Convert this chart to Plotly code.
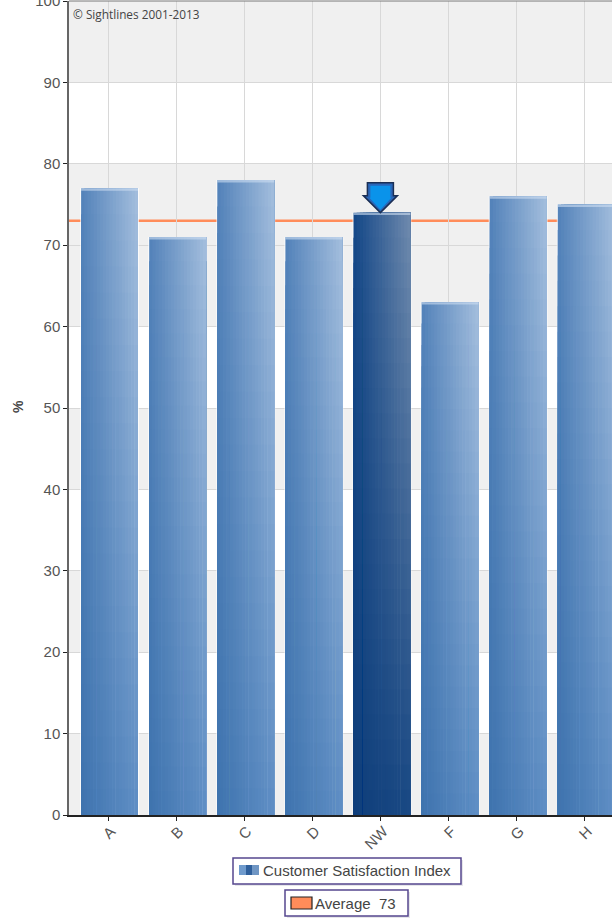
import plotly.graph_objects as go

categories = ["A", "B", "C", "D", "NW", "F", "G", "H"]
satisfaction = [77, 71, 78, 71, 74, 63, 76, 75]
average = 73
highlight = "NW"
y_ticks = [0, 10, 20, 30, 40, 50, 60, 70, 80, 90, 100]
shaded_bands = [(0, 10), (20, 30), (40, 50), (60, 80), (90, 100)]

W, H = 612, 919
L, B, T = 69, 104, 1
PW, PH = W - L, H - B - T


def mix(a, b, t):
    return tuple(a[i] + (b[i] - a[i]) * t for i in range(3))


def css(c):
    return "rgb(%d,%d,%d)" % tuple(round(v) for v in c)


def nx(px):
    return (px - L) / PW


def ny(px):
    return 1 - (px - T) / PH


# corner colours of the bar shading: (top-left, top-right, bottom-left, bottom-right)
NORMAL = ((84, 131, 186), (161, 188, 220), (62, 115, 174), (92, 140, 195))
DARK = ((21, 72, 136), (108, 136, 172), (15, 62, 122), (22, 70, 130))

BAR_L, BAR_W = -0.395, 0.835
COLS, ROWS = 18, 24

fig = go.Figure()

# pale halo round each bar
fig.add_trace(go.Bar(x=categories, y=satisfaction, base=0,
                     width=BAR_W + 0.03, offset=BAR_L - 0.015,
                     marker=dict(color="rgba(255,255,255,0.7)", line_width=0),
                     hoverinfo="skip", showlegend=False))

# shaded body: nested rectangles, so no seams show
for j in range(COLS):
    fx = j / (COLS - 1)
    xs, ys, cs = [], [], []
    for cat, val in zip(categories, satisfaction):
        pal = DARK if cat == highlight else NORMAL
        for k in range(ROWS):
            fy = k / ROWS
            xs.append(cat)
            ys.append(val * (1 - fy))
            top = mix(pal[0], pal[1], fx)
            bot = mix(pal[2], pal[3], fx)
            cs.append(css(mix(top, bot, fy)))
    start = j / COLS
    fig.add_trace(go.Bar(x=xs, y=ys, base=0,
                         width=BAR_W * (1 - start), offset=BAR_L + BAR_W * start,
                         marker=dict(color=cs, line_width=0),
                         hoverinfo="skip", showlegend=False))

# top cap of each bar
fig.add_trace(go.Bar(x=categories, y=[0.3] * len(categories),
                     base=[v - 0.3 for v in satisfaction],
                     width=BAR_W, offset=BAR_L,
                     marker=dict(color="rgba(205,222,242,0.6)", line_width=0),
                     hoverinfo="skip", showlegend=False))

shapes = []
for lo, hi in shaded_bands:
    shapes.append(dict(type="rect", xref="paper", x0=0, x1=1, yref="y", y0=lo, y1=hi,
                       fillcolor="#f0f0f0", line_width=0, layer="below"))
shapes.append(dict(type="line", xref="paper", x0=0, x1=1, yref="y", y0=average, y1=average,
                   line=dict(color="#ff8c5a", width=2.5), layer="below"))
shapes.append(dict(type="line", xref="paper", x0=0, x1=1, yref="paper", y0=1, y1=1,
                   line=dict(color="#777777", width=1), layer="above"))

# arrow over the highlighted bar
hi_i = categories.index(highlight)
for path, fill, line in [
    ("M 0 0 L -17 17 L -13 17 L -13 30 L 13 30 L 13 17 L 17 17 Z", "#2a66b8",
     dict(color="#1b2f55", width=1.5)),
    ("M 0 3 L -11 15 L -10 15 L -10 27 L 10 27 L 10 15 L 11 15 Z", "#0a93ea",
     dict(width=0)),
]:
    shapes.append(dict(type="path", xsizemode="pixel", ysizemode="pixel", xref="x", yref="y",
                       xanchor=hi_i, yanchor=satisfaction[hi_i],
                       path=path, fillcolor=fill, line=line, layer="above"))


def paper_rect(x0, y0, x1, y1, **kw):
    shapes.append(dict(type="rect", xref="paper", yref="paper",
                       x0=nx(x0), x1=nx(x1), y0=ny(y0), y1=ny(y1), layer="above", **kw))


# legend boxes and swatches
PURPLE = "#55478f"
for x0, y0, x1, y1 in [(233, 858, 461, 884), (285, 890, 408, 916)]:
    paper_rect(x0 + 2, y0 + 2, x1 + 2, y1 + 2, fillcolor="#e6e6ea", line_width=0)
    paper_rect(x0, y0, x1, y1, fillcolor="white", line=dict(color=PURPLE, width=1.5))
for x0, x1, c in [(239, 246, "#6f9bcd"), (246, 252, "#2f609c"), (252, 259, "#6f96c4")]:
    paper_rect(x0, 865, x1, 875, fillcolor=c, line_width=0)
paper_rect(291, 897, 312, 909, fillcolor="#ff8c5a", line=dict(color="#222222", width=1.2))

TXT = "#444444"
annotations = [
    dict(text="Customer Satisfaction Index", xref="paper", yref="paper",
         x=nx(261), y=ny(871), xanchor="left", yanchor="middle", showarrow=False,
         font=dict(family="Liberation Sans", size=15, color=TXT)),
    dict(text="Average  73", xref="paper", yref="paper",
         x=nx(313), y=ny(903), xanchor="left", yanchor="middle", showarrow=False,
         font=dict(family="Liberation Sans", size=15, color=TXT)),
    dict(text="<b>%</b>", xref="paper", yref="paper", x=nx(18), y=ny(407),
         xanchor="center", yanchor="middle", textangle=-90, showarrow=False,
         font=dict(family="Liberation Sans", size=14, color=TXT)),
    dict(text="© Sightlines 2001-2013", xref="paper", yref="paper", x=nx(71), y=ny(14),
         xanchor="left", yanchor="middle", showarrow=False,
         font=dict(family="Open Sans", size=11.8, color=TXT)),
]

fig.update_layout(
    width=W, height=H, margin=dict(l=L, r=0, t=T, b=B),
    paper_bgcolor="white", plot_bgcolor="white",
    barmode="overlay", showlegend=False, shapes=shapes, annotations=annotations,
    font=dict(family="Liberation Sans", size=15, color="#555555"),
    xaxis=dict(type="category", categoryorder="array", categoryarray=categories,
               range=[(L - 108) / 68.1, (W - 108) / 68.1], showgrid=True, gridcolor="#d8d8d8", gridwidth=1,
               tickangle=-45, ticks="outside", ticklen=4, tickcolor="#222222",
               ticklabelstandoff=-4, ticklabelshift=3, automargin=False,
               showline=True, linecolor="#222222", linewidth=1.5),
    yaxis=dict(range=[0, 100], tickvals=y_ticks, showgrid=True, gridcolor="#d8d8d8", gridwidth=1,
               ticks="outside", ticklen=4, tickcolor="#222222", zeroline=False,
               ticklabeloverflow="allow", automargin=False,
               showline=True, linecolor="#666666", linewidth=1.5),
)

fig.write_html("out.html", config={"displayModeBar": False},
               post_script="document.body.style.margin='0';")
